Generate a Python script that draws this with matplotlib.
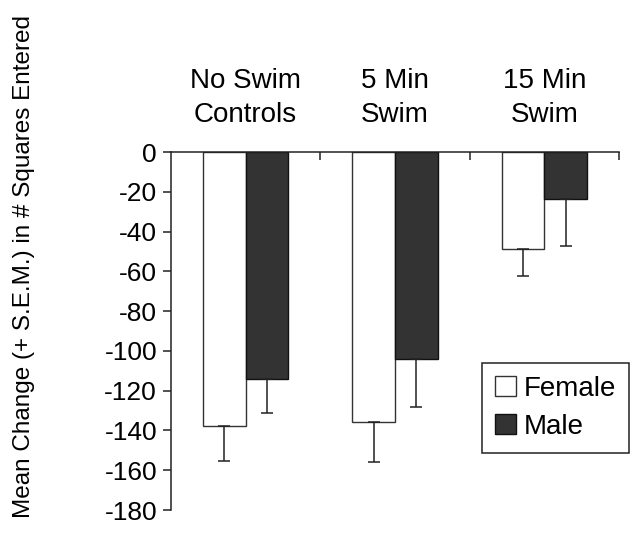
import matplotlib.pyplot as plt
import numpy as np
from matplotlib.transforms import blended_transform_factory

plt.rcParams['font.family'] = ['Liberation Sans', 'DejaVu Sans']

groups = ['No Swim\nControls', '5 Min\nSwim', '15 Min\nSwim']
female_mean = [-138, -136, -49]
female_sem = [17.5, 20, 13.5]
male_mean = [-114, -104, -23.5]
male_sem = [17, 24, 24]
y_ticks = [0, -20, -40, -60, -80, -100, -120, -140, -160, -180]

fig = plt.figure(figsize=(6.35, 5.37), dpi=100)
ax = fig.add_axes([171 / 635, 1 - 510 / 537, 448 / 635, 358 / 537])

x = np.arange(len(groups))
w = 0.285
err_kw = dict(ecolor='#222222', elinewidth=1.1, capsize=4.5, capthick=1.1)

# error bars only go down (away from zero)
ax.bar(x - w / 2, female_mean, w, color='white', edgecolor='#333333', linewidth=1.0,
       label='Female', yerr=[female_sem, np.zeros(3)], error_kw=err_kw, zorder=2)
ax.bar(x + w / 2, male_mean, w, color='#333333', edgecolor='#111111', linewidth=1.0,
       label='Male', yerr=[male_sem, np.zeros(3)], error_kw=err_kw, zorder=2)

ax.set_xlim(-0.5, 2.5)
ax.set_ylim(-180, 0)

ax.spines['bottom'].set_visible(False)
ax.spines['right'].set_visible(False)
for s in ('top', 'left'):
    ax.spines[s].set_linewidth(1.1)
    ax.spines[s].set_color('#222222')

ax.set_yticks(y_ticks)
ax.set_yticklabels([str(t) for t in y_ticks])
ax.tick_params(axis='y', direction='out', length=6, width=1.1, labelsize=19,
               pad=4, color='#222222')

# category boundary ticks on the top line, pointing down
ax.xaxis.set_ticks_position('top')
ax.set_xticks([0.5, 1.5, 2.5])
ax.set_xticklabels([])
ax.tick_params(axis='x', direction='in', length=6, width=1.1, color='#222222')

trans = blended_transform_factory(ax.transData, ax.transAxes)
for i, g in enumerate(groups):
    ax.annotate(g, xy=(i, 1), xycoords=trans, xytext=(0, 17),
                textcoords='offset points', ha='center', va='bottom',
                fontsize=20, linespacing=1.4)

fig.text(24 / 635, 1 - 266 / 537, 'Mean Change (+ S.E.M.) in # Squares Entered',
         rotation=90, ha='center', va='center', fontsize=17.5)

leg = ax.legend(loc='upper right', bbox_to_anchor=(629 / 635, 1 - 363 / 537),
                bbox_transform=fig.transFigure, fontsize=20, fancybox=False,
                edgecolor='#222222', framealpha=1, handlelength=0.75,
                handleheight=0.75, handletextpad=0.3, borderpad=0.45,
                labelspacing=0.45, borderaxespad=0)
leg.get_frame().set_linewidth(1.1)

fig.savefig('out.png', dpi=100)
